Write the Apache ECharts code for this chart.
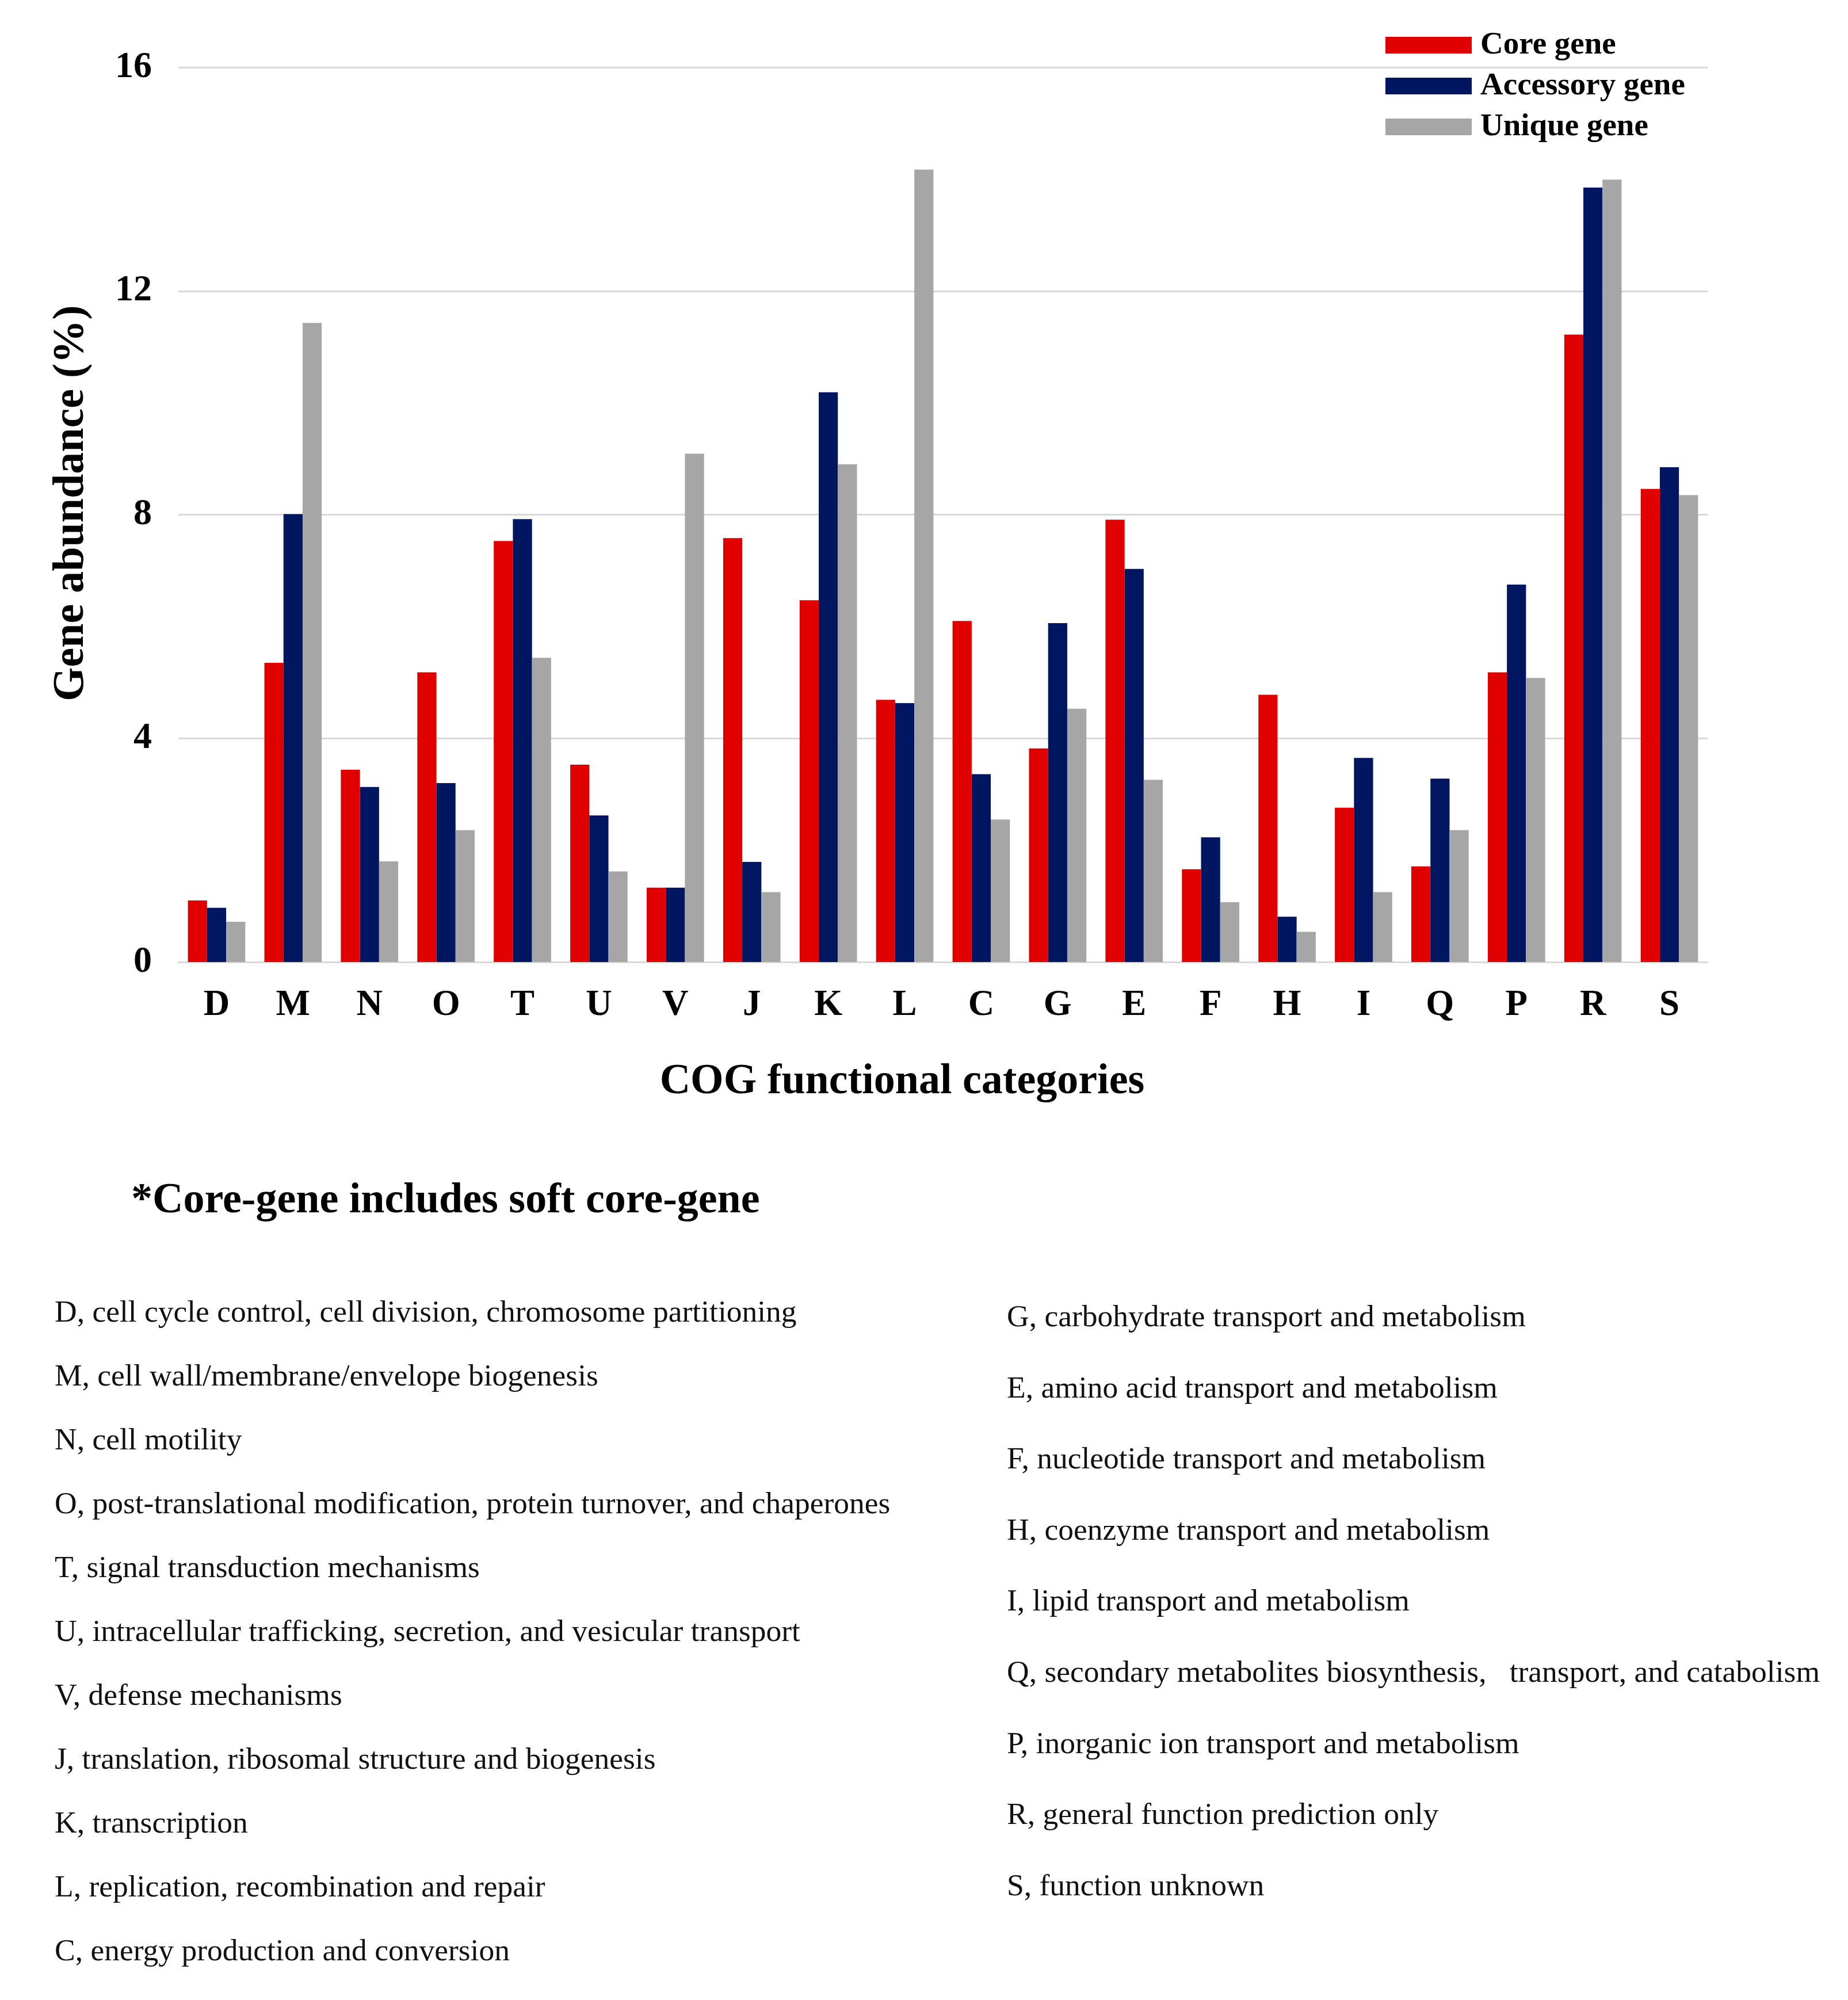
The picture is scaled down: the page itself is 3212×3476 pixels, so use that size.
<!DOCTYPE html>
<html>
<head>
<meta charset="utf-8">
<script src="https://cdn.jsdelivr.net/npm/echarts@6/dist/echarts.min.js"></script>
<style>
html,body{margin:0;padding:0;background:#fff;}
#chart{width:3212px;height:3476px;}
</style>
</head>
<body>
<div id="chart"></div>
<script>
const categories = ['D','M','N','O','T','U','V','J','K','L','C','G','E','F','H','I','Q','P','R','S'];
const coreGene = [1.10,5.35,3.44,5.18,7.53,3.53,1.33,7.58,6.47,4.69,6.10,3.82,7.91,1.66,4.78,2.76,1.71,5.18,11.22,8.46];
const accessoryGene = [0.97,8.01,3.13,3.20,7.92,2.62,1.33,1.79,10.19,4.63,3.36,6.06,7.03,2.23,0.81,3.65,3.28,6.75,13.85,8.85];
const uniqueGene = [0.72,11.43,1.80,2.36,5.44,1.62,9.09,1.25,8.90,14.17,2.55,4.53,3.26,1.07,0.54,1.25,2.36,5.08,13.99,8.35];
const seriesNames = ['Core gene','Accessory gene','Unique gene'];
const yTicks = [0,4,8,12,16];
const footnote = '*Core-gene includes soft core-gene';
const descLeft = [
  'D, cell cycle control, cell division, chromosome partitioning',
  'M, cell wall/membrane/envelope biogenesis',
  'N, cell motility',
  'O, post-translational modification, protein turnover, and chaperones',
  'T, signal transduction mechanisms',
  'U, intracellular trafficking, secretion, and vesicular transport',
  'V, defense mechanisms',
  'J, translation, ribosomal structure and biogenesis',
  'K, transcription',
  'L, replication, recombination and repair',
  'C, energy production and conversion'
];
const descRight = [
  'G, carbohydrate transport and metabolism',
  'E, amino acid transport and metabolism',
  'F, nucleotide transport and metabolism',
  'H, coenzyme transport and metabolism',
  'I, lipid transport and metabolism',
  'Q, secondary metabolites biosynthesis,   transport, and catabolism',
  'P, inorganic ion transport and metabolism',
  'R, general function prediction only',
  'S, function unknown'
];

const FONT = "'Liberation Serif', 'Times New Roman', serif";
const colors = ['#E00000','#001660','#A6A6A6'];

const graphics = [];
graphics.push({
  type:'text', left:228, top:2084-33,
  style:{text:footnote, font:'bold 74px ' + FONT, fill:'#000'}
});
descLeft.forEach((t,i)=>{
  graphics.push({type:'text', left:95, top:2277 - 21 + i*111,
    style:{text:t, font:'53.5px ' + FONT, fill:'#111'}});
});
descRight.forEach((t,i)=>{
  graphics.push({type:'text', left:1750, top:2284 - 20 + i*123.6,
    style:{text:t, font:'53.5px ' + FONT, fill:'#111'}});
});

const chart = echarts.init(document.getElementById('chart'), null, {renderer:'canvas'});
chart.setOption({
  backgroundColor:'#fff',
  animation:false,
  color: colors,
  grid:{left:310, right:244, top:117, bottom:1804, containLabel:false},
  legend:{
    data: seriesNames,
    orient:'vertical',
    left:2403, top:43,
    itemWidth:150, itemHeight:29, itemGap:10,
    icon:'rect',
    textStyle:{fontFamily:FONT, fontWeight:'bold', fontSize:55, color:'#000', lineHeight:61, padding:[0,0,0,10]}
  },
  xAxis:{
    type:'category',
    data: categories,
    name:'COG functional categories',
    nameLocation:'middle',
    nameGap:172,
    nameTextStyle:{fontFamily:FONT, fontWeight:'bold', fontSize:74, color:'#000', padding:[0,142,0,0]},
    axisLine:{show:true, lineStyle:{color:'#D9D9D9', width:3}},
    axisTick:{show:false},
    axisLabel:{fontFamily:FONT, fontWeight:'bold', fontSize:63, color:'#000', margin:44}
  },
  yAxis:{
    type:'value',
    min:yTicks[0], max:yTicks[yTicks.length-1], interval:4,
    name:'Gene abundance (%)',
    nameLocation:'middle',
    nameRotate:90,
    nameGap:148,
    nameTextStyle:{fontFamily:FONT, fontWeight:'bold', fontSize:76, color:'#000', padding:[0,0,0,40]},
    axisLine:{show:false},
    axisTick:{show:false},
    splitLine:{lineStyle:{color:'#D9D9D9', width:3}},
    axisLabel:{fontFamily:FONT, fontWeight:'bold', fontSize:64, color:'#000', margin:46}
  },
  series:[
    {name:seriesNames[0], type:'bar', data:coreGene, barGap:'0%', barCategoryGap:'25%', itemStyle:{color:colors[0]}},
    {name:seriesNames[1], type:'bar', data:accessoryGene, barGap:'0%', barCategoryGap:'25%', itemStyle:{color:colors[1]}},
    {name:seriesNames[2], type:'bar', data:uniqueGene, barGap:'0%', barCategoryGap:'25%', itemStyle:{color:colors[2]}}
  ],
  graphic: graphics
});
</script>
</body>
</html>
